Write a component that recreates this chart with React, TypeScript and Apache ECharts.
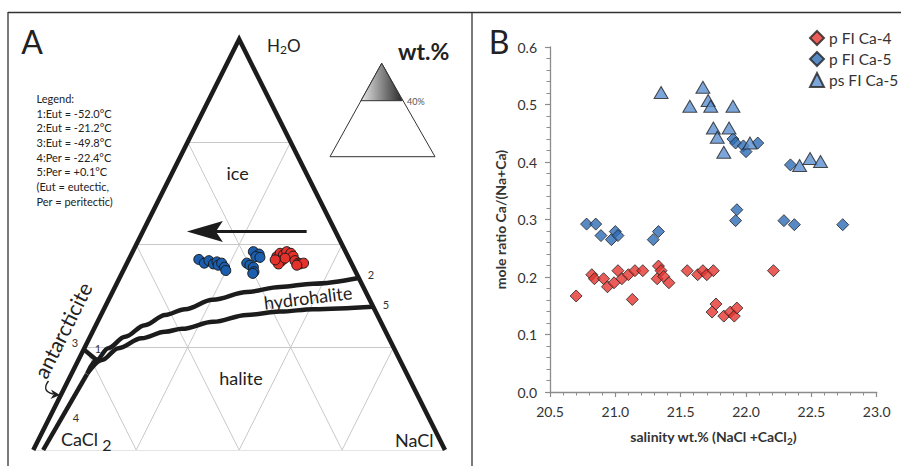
import React, { useEffect, useRef } from 'react';
import * as echarts from 'echarts';

const FONT = 'Lato, "Open Sans", sans-serif';
const INK = '#222';

// ---------- Panel B data: [salinity wt.%, mole ratio Ca/(Na+Ca)] ----------
const seriesNames = ['p FI Ca-4', 'p FI Ca-5', 'ps FI Ca-5'];
const pFiCa4 = [
  [20.70, 0.167], [20.82, 0.204], [20.84, 0.197], [20.91, 0.197], [20.94, 0.183],
  [20.99, 0.190], [21.02, 0.211], [21.05, 0.197], [21.10, 0.204], [21.13, 0.161],
  [21.15, 0.211], [21.21, 0.211], [21.32, 0.197], [21.33, 0.219], [21.35, 0.211],
  [21.37, 0.201], [21.41, 0.190], [21.55, 0.211], [21.63, 0.204], [21.67, 0.211],
  [21.70, 0.204], [21.75, 0.211], [21.74, 0.139], [21.77, 0.153], [21.83, 0.132],
  [21.88, 0.139], [21.91, 0.132], [21.93, 0.146], [22.21, 0.211],
];
const pFiCa5 = [
  [20.78, 0.292], [20.85, 0.292], [20.89, 0.272], [20.97, 0.265], [21.00, 0.279],
  [21.02, 0.272], [21.29, 0.265], [21.33, 0.279], [21.90, 0.440], [21.92, 0.433],
  [21.98, 0.428], [22.00, 0.418], [22.09, 0.433], [21.92, 0.298], [21.93, 0.317],
  [22.29, 0.298], [22.37, 0.291], [22.74, 0.291], [22.34, 0.395],
];
const psFiCa5 = [
  [21.35, 0.521], [21.57, 0.497], [21.67, 0.530], [21.71, 0.507], [21.73, 0.497],
  [21.90, 0.497], [21.75, 0.459], [21.78, 0.443], [21.83, 0.417], [21.87, 0.459],
  [22.03, 0.433], [22.41, 0.394], [22.49, 0.406], [22.57, 0.401],
];
const salinityRange = [20.5, 23.0];
const salinityStep = 0.5;
const ratioRange = [0, 0.6];
const ratioStep = 0.1;

// ---------- Panel A data: ternary points [NaCl wt.%, H2O wt.%] (CaCl2 = rest) ----------
const ternaryCa5A = [
  [17.0, 46.4], [18.8, 45.5], [19.6, 46.1], [21.1, 45.3], [21.7, 45.8],
  [22.4, 45.0], [23.0, 45.5], [24.2, 44.5], [24.9, 43.7],
];
const ternaryCa5B = [
  [29.3, 48.3], [31.0, 47.7], [30.5, 47.1], [31.6, 46.9], [29.1, 45.5],
  [30.1, 45.0], [31.2, 44.5], [31.9, 43.4], [31.8, 43.0],
];
const ternaryCa4 = [
  [35.6, 47.1], [36.0, 47.9], [37.0, 47.5], [37.4, 48.3], [38.6, 47.9],
  [39.5, 47.2], [37.3, 46.1], [36.9, 45.3], [37.8, 46.7], [40.5, 46.1],
  [41.6, 45.5], [42.1, 45.3], [42.9, 45.5], [41.5, 45.0], [35.6, 46.3],
];
const iceHydrohaliteCurve = [
  [3.8, 18.7], [4.4, 21.9], [5.8, 24.8], [8.5, 27.6], [11.9, 30.4], [15.6, 32.9],
  [19.7, 34.3], [25.3, 36.6], [32.7, 38.5], [40.1, 39.7], [47.7, 40.5], [58.1, 41.9],
];
const hydrohaliteHaliteCurve = [
  [3.8, 18.5], [5.7, 21.9], [8.3, 24.8], [12.7, 27.2], [17.6, 28.8], [21.4, 29.5],
  [28.1, 31.2], [35.4, 32.9], [43.1, 33.7], [50.9, 34.3], [65.1, 34.9],
];
const antarcticiteBoundary = [[2.4, 0], [3.8, 18.5]];
const cotectic3to1 = [[0, 24.5], [4.4, 21.9]];
const trendArrow = [[39.8, 53.2], [10.7, 53.2]];
const gridSteps = [25, 50, 75];
const legendLines = [
  'Legend:', '1:Eut = -52.0°C', '2:Eut = -21.2°C', '3:Eut = -49.8°C',
  '4:Per = -22.4°C', '5:Per = +0.1°C', '(Eut = eutectic,', 'Per = peritectic)',
];

const toXY = (p: number[]) => [p[0] / 100 + p[1] / 200, p[1] / 100];

function T(x: number, y: number, text: string, size: number, extra: any = {}) {
  return {
    type: 'text', x, y, rotation: extra.rotation || 0, silent: true, z: 10,
    style: {
      text, fontSize: size, fontFamily: FONT, fill: extra.fill || INK,
      align: extra.align || 'left', verticalAlign: extra.verticalAlign || 'middle',
      fontWeight: extra.weight || 'normal', lineHeight: extra.lineHeight, rich: extra.rich,
    },
  };
}

function buildOption() {
  const gridSegs: any[] = [];
  for (const k of gridSteps) {
    gridSegs.push({ coords: [toXY([0, k]), toXY([100 - k, k])] });
    gridSegs.push({ coords: [toXY([k, 0]), toXY([k, 100 - k])] });
    gridSegs.push({ coords: [toXY([100 - k, 0]), toXY([0, 100 - k])] });
  }
  gridSegs.push({ coords: [toXY([0, 0]), toXY([100, 0])] });

  const thick = { color: '#1c1c1c', width: 4.5, join: 'miter', cap: 'butt' };
  const lineA = (data: number[][], smooth: any = false) => ({
    type: 'line', xAxisIndex: 0, yAxisIndex: 0, data: data.map(toXY), symbol: 'none',
    showSymbol: false, clip: false, silent: true, smooth, smoothMonotone: 'x',
    lineStyle: thick, z: 3,
  });
  const dotsA = (data: number[][], color: string) => ({
    type: 'scatter', xAxisIndex: 0, yAxisIndex: 0, data: data.map(toXY), symbol: 'circle',
    symbolSize: 10, clip: false, silent: true, z: 5,
    itemStyle: { color, borderColor: '#1a1a1a', borderWidth: 1, opacity: 1 },
  });
  const arrowData = [[...toXY(trendArrow[0]), ...toXY(trendArrow[1])]];

  const axisGray = '#8c8c8c';
  const labelStyle = { fontSize: 14, color: '#333', fontFamily: FONT };

  return {
    animation: false,
    backgroundColor: '#fff',
    grid: [
      { left: 33.3, top: 39.3, width: 411.7, height: 410.7, containLabel: false },
      { left: 550, top: 47, width: 326.7, height: 345, containLabel: false },
    ],
    xAxis: [
      { gridIndex: 0, type: 'value', min: 0, max: 1, show: false },
      {
        gridIndex: 1, type: 'value', min: salinityRange[0], max: salinityRange[1], interval: salinityStep,
        axisLine: { show: true, onZero: false, lineStyle: { color: axisGray, width: 1.3 } },
        axisTick: { show: true, length: 5, lineStyle: { color: axisGray, width: 1.2 } },
        minorTick: { show: true, splitNumber: 5, length: 3.5, lineStyle: { color: axisGray, width: 1 } },
        splitLine: { show: false }, minorSplitLine: { show: false },
        axisLabel: { ...labelStyle, margin: 12, formatter: (v: number) => v.toFixed(1) },
        name: 'salinity wt.% (NaCl +CaCl{s|2})', nameLocation: 'middle', nameGap: 35,
        nameTextStyle: {
          fontSize: 14, fontWeight: 'bold', color: '#333', fontFamily: FONT, verticalAlign: 'top',
          rich: { s: { fontSize: 10, fontWeight: 'bold', color: '#333', fontFamily: FONT, padding: [9, 0, 0, 0] } },
        },
      },
    ],
    yAxis: [
      { gridIndex: 0, type: 'value', min: 0, max: 1, show: false },
      {
        gridIndex: 1, type: 'value', min: ratioRange[0], max: ratioRange[1], interval: ratioStep,
        axisLine: { show: true, onZero: false, lineStyle: { color: axisGray, width: 1.3 } },
        axisTick: { show: true, length: 5, lineStyle: { color: axisGray, width: 1.2 } },
        minorTick: { show: true, splitNumber: 5, length: 3.5, lineStyle: { color: axisGray, width: 1 } },
        splitLine: { show: false }, minorSplitLine: { show: false },
        axisLabel: { ...labelStyle, margin: 13, formatter: (v: number) => v.toFixed(1) },
        name: 'mole ratio Ca/(Na+Ca)', nameLocation: 'middle', nameGap: 43, nameRotate: 90,
        nameTextStyle: { fontSize: 14, fontWeight: 'bold', color: '#333', fontFamily: FONT },
      },
    ],
    legend: {
      data: [
        { name: seriesNames[0], icon: 'diamond' },
        { name: seriesNames[1], icon: 'diamond' },
        { name: seriesNames[2], icon: 'triangle' },
      ],
      orient: 'vertical', left: 804, top: 25, itemWidth: 14, itemHeight: 14, itemGap: 5,
      selectedMode: false,
      textStyle: { fontSize: 15.5, color: '#333', fontFamily: FONT },
    },
    series: [
      {
        type: 'lines', coordinateSystem: 'cartesian2d', xAxisIndex: 0, yAxisIndex: 0, data: gridSegs,
        silent: true, lineStyle: { color: '#c9c9c9', width: 1, opacity: 1, curveness: 0 }, z: 1,
      },
      lineA([[0, 0], [0, 100], [100, 0]]),
      lineA(iceHydrohaliteCurve, 0.35),
      lineA(hydrohaliteHaliteCurve, 0.35),
      lineA(antarcticiteBoundary),
      lineA(cotectic3to1),
      {
        type: 'custom', xAxisIndex: 0, yAxisIndex: 0, data: arrowData, silent: true, clip: false, z: 4,
        encode: { x: [0, 2], y: [1, 3] },
        renderItem: (params: any, api: any) => {
          const p0 = api.coord([api.value(0), api.value(1)]);
          const p1 = api.coord([api.value(2), api.value(3)]);
          const dx = p1[0] - p0[0], dy = p1[1] - p0[1];
          const len = Math.hypot(dx, dy);
          const ux = dx / len, uy = dy / len, nx = -uy, ny = ux;
          const headLen = 36, half = 10.5, notch = 29;
          const bx = p1[0] - ux * headLen, by = p1[1] - uy * headLen;
          const np = [p1[0] - ux * notch, p1[1] - uy * notch];
          return {
            type: 'group',
            children: [
              { type: 'line', shape: { x1: p0[0], y1: p0[1], x2: np[0], y2: np[1] }, style: { stroke: '#1c1c1c', lineWidth: 3.2 } },
              {
                type: 'polygon',
                shape: { points: [p1, [bx + nx * half, by + ny * half], np, [bx - nx * half, by - ny * half]] },
                style: { fill: '#1c1c1c' },
              },
            ],
          };
        },
      },
      dotsA(ternaryCa5A, '#1b5eae'),
      dotsA(ternaryCa5B, '#1b5eae'),
      dotsA(ternaryCa4, '#e5312c'),
      {
        name: seriesNames[0], type: 'scatter', xAxisIndex: 1, yAxisIndex: 1, data: pFiCa4,
        symbol: 'diamond', symbolSize: 12,
        itemStyle: { color: '#e5342f', borderColor: '#222', borderWidth: 1 },
      },
      {
        name: seriesNames[1], type: 'scatter', xAxisIndex: 1, yAxisIndex: 1, data: pFiCa5,
        symbol: 'diamond', symbolSize: 12,
        itemStyle: { color: '#2d6cb5', borderColor: '#222', borderWidth: 1 },
      },
      {
        name: seriesNames[2], type: 'scatter', xAxisIndex: 1, yAxisIndex: 1, data: psFiCa5,
        symbol: 'triangle', symbolSize: [14, 12],
        itemStyle: { color: '#5b8fd0', borderColor: '#222', borderWidth: 1 },
      },
    ],
    graphic: [
      // frame
      { type: 'line', silent: true, shape: { x1: 8, y1: 12.5, x2: 901, y2: 12.5 }, style: { stroke: '#333', lineWidth: 1.3 } },
      { type: 'line', silent: true, shape: { x1: 8, y1: 12, x2: 8, y2: 466 }, style: { stroke: '#333', lineWidth: 1.3 } },
      { type: 'line', silent: true, shape: { x1: 472, y1: 12, x2: 472, y2: 466 }, style: { stroke: '#333', lineWidth: 1.3 } },
      // panel letters
      T(32, 41, 'A', 32, { align: 'center' }),
      T(499, 41, 'B', 32, { align: 'center' }),
      // ternary apex labels
      T(267, 45, '{a|H}{s|2}{a|O}', 17, { rich: { a: { fontSize: 17, fontFamily: FONT, fill: INK }, s: { fontSize: 12, fontFamily: FONT, fill: INK, padding: [8, 0, 0, 0] } } }),
      T(395, 440, 'NaCl', 18),
      T(61, 439, '{a|CaCl}{s| 2}', 18, { rich: { a: { fontSize: 18, fontFamily: FONT, fill: INK }, s: { fontSize: 16, fontFamily: FONT, fill: INK, padding: [10, 0, 0, 0] } } }),
      // field labels
      T(237.5, 173, 'ice', 18, { align: 'center' }),
      T(241, 378, 'halite', 18, { align: 'center' }),
      T(308, 297.5, 'hydrohalite', 18, { align: 'center', rotation: 7 * Math.PI / 180 }),
      T(62.5, 330, 'antarcticite', 21, { align: 'center', rotation: 63.4 * Math.PI / 180 }),
      // invariant point numbers
      T(371, 274, '2', 11, { align: 'center', fill: '#333' }),
      T(386, 304, '5', 11, { align: 'center', fill: '#333' }),
      T(75, 342, '3', 11, { align: 'center', fill: '#333' }),
      T(98, 348, '1', 11, { align: 'center', fill: '#333' }),
      T(76, 417, '4', 11, { align: 'center', fill: '#333' }),
      // legend text
      T(36.5, 91, legendLines.join('\n'), 11, { verticalAlign: 'top', lineHeight: 14.7 }),
      // antarcticite arrow
      { type: 'bezierCurve', silent: true, shape: { x1: 48.5, y1: 381, cpx1: 41, cpy1: 391, x2: 53, y2: 394 }, style: { stroke: '#222', lineWidth: 1.4, fill: null } },
      { type: 'polygon', silent: true, shape: { points: [[60, 395], [51, 389.5], [53.5, 394.5], [50.5, 399]] }, style: { fill: '#222' } },
      // wt.% inset
      T(398, 51, 'wt.%', 23, { weight: 'bold' }),
      { type: 'polygon', silent: true, shape: { points: [[381.7, 63.3], [330, 156.7], [435, 156.7]] }, style: { fill: '#fff', stroke: '#333', lineWidth: 1 } },
      {
        type: 'polygon', silent: true, shape: { points: [[381.7, 63.3], [361, 100.7], [402.3, 100.7]] },
        style: {
          stroke: '#333', lineWidth: 1,
          fill: new echarts.graphic.LinearGradient(0, 0, 1, 0, [
            { offset: 0, color: '#e6e6e6' }, { offset: 1, color: '#2a2a2a' },
          ]),
        },
      },
      T(407, 101, '40%', 9, { fill: '#555' }),
    ],
  };
}

export default function App() {
  const ref = useRef<HTMLDivElement>(null);
  useEffect(() => {
    const chart = echarts.init(ref.current!, null, { renderer: 'svg' });
    chart.setOption(buildOption() as any);
    return () => chart.dispose();
  }, []);
  return (
    <div
      ref={ref}
      style={{ position: 'fixed', left: 0, top: 0, width: 901, height: 466, background: '#fff' }}
    />
  );
}
